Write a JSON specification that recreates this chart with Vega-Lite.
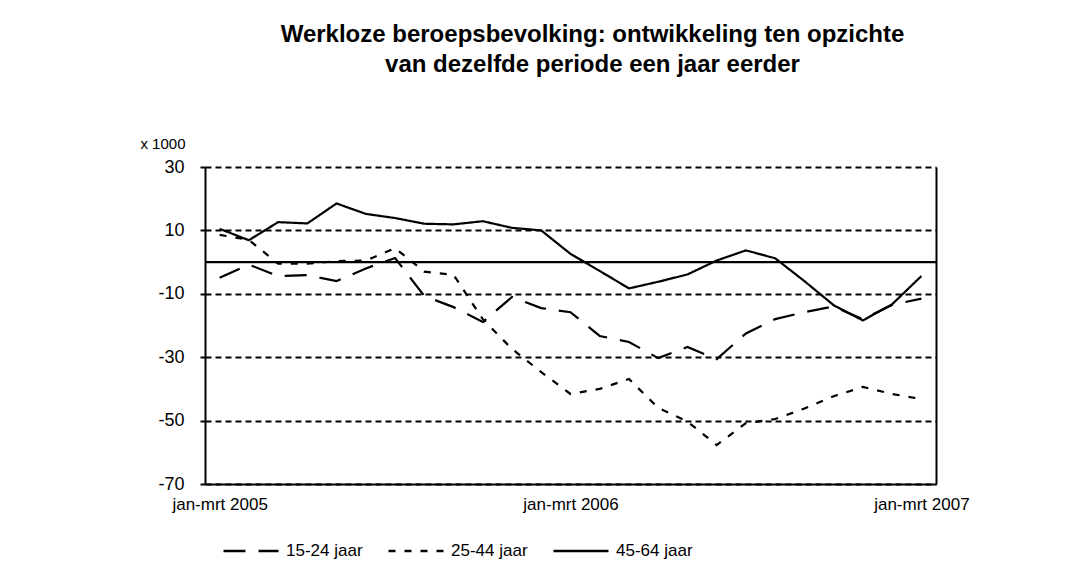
{
  "$schema": "https://vega.github.io/schema/vega-lite/v6.json",
  "width": 731,
  "height": 317,
  "autosize": {"type": "none"},
  "padding": {"left": 205, "top": 167, "right": 131, "bottom": 90},
  "background": "white",
  "config": {
    "font": "Liberation Sans",
    "view": {"stroke": null},
    "axis": {"labelColor": "black", "titleColor": "black", "labelFont": "Liberation Sans", "titleFont": "Liberation Sans"},
    "legend": {"labelColor": "black", "labelFont": "Liberation Sans"}
  },
  "title": {
    "text": ["Werkloze beroepsbevolking: ontwikkeling ten opzichte", "van dezelfde periode een jaar eerder"],
    "font": "Liberation Sans",
    "fontSize": 24,
    "fontWeight": "bold",
    "color": "black",
    "anchor": "middle",
    "frame": "group",
    "dx": 22,
    "offset": 59,
    "lineHeight": 30
  },
  "datasets": {
    "main": [
      {"period": "jan-mrt 2005", "series": "15-24 jaar", "value": -4.9},
      {"period": "feb-apr 2005", "series": "15-24 jaar", "value": -0.8},
      {"period": "mrt-mei 2005", "series": "15-24 jaar", "value": -4.4},
      {"period": "apr-jun 2005", "series": "15-24 jaar", "value": -4.1},
      {"period": "mei-jul 2005", "series": "15-24 jaar", "value": -6.0},
      {"period": "jun-aug 2005", "series": "15-24 jaar", "value": -2.0},
      {"period": "jul-sep 2005", "series": "15-24 jaar", "value": 1.3},
      {"period": "aug-okt 2005", "series": "15-24 jaar", "value": -10.7},
      {"period": "sep-nov 2005", "series": "15-24 jaar", "value": -14.2},
      {"period": "okt-dec 2005", "series": "15-24 jaar", "value": -18.9},
      {"period": "nov 2005-jan 2006", "series": "15-24 jaar", "value": -11.0},
      {"period": "dec 2005-feb 2006", "series": "15-24 jaar", "value": -14.5},
      {"period": "jan-mrt 2006", "series": "15-24 jaar", "value": -15.8},
      {"period": "feb-apr 2006", "series": "15-24 jaar", "value": -23.3},
      {"period": "mrt-mei 2006", "series": "15-24 jaar", "value": -25.2},
      {"period": "apr-jun 2006", "series": "15-24 jaar", "value": -30.3},
      {"period": "mei-jul 2006", "series": "15-24 jaar", "value": -26.8},
      {"period": "jun-aug 2006", "series": "15-24 jaar", "value": -30.6},
      {"period": "jul-sep 2006", "series": "15-24 jaar", "value": -22.5},
      {"period": "aug-okt 2006", "series": "15-24 jaar", "value": -18.0},
      {"period": "sep-nov 2006", "series": "15-24 jaar", "value": -15.8},
      {"period": "okt-dec 2006", "series": "15-24 jaar", "value": -14.0},
      {"period": "nov 2006-jan 2007", "series": "15-24 jaar", "value": -18.0},
      {"period": "dec 2006-feb 2007", "series": "15-24 jaar", "value": -13.5},
      {"period": "jan-mrt 2007", "series": "15-24 jaar", "value": -11.5},
      {"period": "jan-mrt 2005", "series": "25-44 jaar", "value": 8.6},
      {"period": "feb-apr 2005", "series": "25-44 jaar", "value": 7.0},
      {"period": "mrt-mei 2005", "series": "25-44 jaar", "value": -0.5},
      {"period": "apr-jun 2005", "series": "25-44 jaar", "value": -0.5},
      {"period": "mei-jul 2005", "series": "25-44 jaar", "value": 0.3},
      {"period": "jun-aug 2005", "series": "25-44 jaar", "value": 0.5},
      {"period": "jul-sep 2005", "series": "25-44 jaar", "value": 4.4},
      {"period": "aug-okt 2005", "series": "25-44 jaar", "value": -3.0},
      {"period": "sep-nov 2005", "series": "25-44 jaar", "value": -4.0},
      {"period": "okt-dec 2005", "series": "25-44 jaar", "value": -18.0},
      {"period": "nov 2005-jan 2006", "series": "25-44 jaar", "value": -27.4},
      {"period": "dec 2005-feb 2006", "series": "25-44 jaar", "value": -34.7},
      {"period": "jan-mrt 2006", "series": "25-44 jaar", "value": -41.6},
      {"period": "feb-apr 2006", "series": "25-44 jaar", "value": -40.0},
      {"period": "mrt-mei 2006", "series": "25-44 jaar", "value": -36.9},
      {"period": "apr-jun 2006", "series": "25-44 jaar", "value": -46.0},
      {"period": "mei-jul 2006", "series": "25-44 jaar", "value": -50.3},
      {"period": "jun-aug 2006", "series": "25-44 jaar", "value": -57.7},
      {"period": "jul-sep 2006", "series": "25-44 jaar", "value": -50.8},
      {"period": "aug-okt 2006", "series": "25-44 jaar", "value": -49.5},
      {"period": "sep-nov 2006", "series": "25-44 jaar", "value": -46.2},
      {"period": "okt-dec 2006", "series": "25-44 jaar", "value": -42.3},
      {"period": "nov 2006-jan 2007", "series": "25-44 jaar", "value": -39.4},
      {"period": "dec 2006-feb 2007", "series": "25-44 jaar", "value": -41.6},
      {"period": "jan-mrt 2007", "series": "25-44 jaar", "value": -43.2},
      {"period": "jan-mrt 2005", "series": "45-64 jaar", "value": 10.5},
      {"period": "feb-apr 2005", "series": "45-64 jaar", "value": 6.9},
      {"period": "mrt-mei 2005", "series": "45-64 jaar", "value": 12.6},
      {"period": "apr-jun 2005", "series": "45-64 jaar", "value": 12.2},
      {"period": "mei-jul 2005", "series": "45-64 jaar", "value": 18.5},
      {"period": "jun-aug 2005", "series": "45-64 jaar", "value": 15.2},
      {"period": "jul-sep 2005", "series": "45-64 jaar", "value": 13.9},
      {"period": "aug-okt 2005", "series": "45-64 jaar", "value": 12.1},
      {"period": "sep-nov 2005", "series": "45-64 jaar", "value": 11.9},
      {"period": "okt-dec 2005", "series": "45-64 jaar", "value": 12.9},
      {"period": "nov 2005-jan 2006", "series": "45-64 jaar", "value": 10.8},
      {"period": "dec 2005-feb 2006", "series": "45-64 jaar", "value": 10.0},
      {"period": "jan-mrt 2006", "series": "45-64 jaar", "value": 2.6},
      {"period": "feb-apr 2006", "series": "45-64 jaar", "value": -2.8},
      {"period": "mrt-mei 2006", "series": "45-64 jaar", "value": -8.3},
      {"period": "apr-jun 2006", "series": "45-64 jaar", "value": -6.2},
      {"period": "mei-jul 2006", "series": "45-64 jaar", "value": -3.9},
      {"period": "jun-aug 2006", "series": "45-64 jaar", "value": 0.5},
      {"period": "jul-sep 2006", "series": "45-64 jaar", "value": 3.7},
      {"period": "aug-okt 2006", "series": "45-64 jaar", "value": 1.2},
      {"period": "sep-nov 2006", "series": "45-64 jaar", "value": -6.0},
      {"period": "okt-dec 2006", "series": "45-64 jaar", "value": -13.6},
      {"period": "nov 2006-jan 2007", "series": "45-64 jaar", "value": -18.4},
      {"period": "dec 2006-feb 2007", "series": "45-64 jaar", "value": -13.3},
      {"period": "jan-mrt 2007", "series": "45-64 jaar", "value": -4.4}
    ],
    "zero": [{"level": 0}]
  },
  "layer": [
    {
      "data": {"name": "main"},
      "mark": {"type": "line", "strokeWidth": 2.2, "color": "black", "strokeCap": "butt"},
      "encoding": {
        "x": {
          "field": "period",
          "type": "ordinal",
          "sort": null,
          "scale": {"type": "point", "padding": 0.5},
          "axis": {
            "values": ["jan-mrt 2005", "jan-mrt 2006", "jan-mrt 2007"],
            "title": null,
            "labelAngle": 0,
            "labelFontSize": 17,
            "labelPadding": 12,
            "ticks": false,
            "grid": false,
            "domain": true,
            "domainColor": "black",
            "domainWidth": 2
          }
        },
        "y": {
          "field": "value",
          "type": "quantitative",
          "scale": {"domain": [-70, 30], "nice": false, "zero": false},
          "axis": {
            "orient": "left",
            "values": [-70, -50, -30, -10, 10, 30],
            "labelExpr": "toString(datum.value)",
            "title": "x 1000",
            "titleAngle": 0,
            "titleAlign": "right",
            "titleBaseline": "middle",
            "titleX": -20,
            "titleY": -24,
            "titleFontSize": 15,
            "titleFontWeight": "normal",
            "labelFontSize": 18,
            "labelPadding": 14,
            "tickSize": 7,
            "tickColor": "black",
            "tickWidth": 2,
            "tickDash": [5, 3],
            "domain": true,
            "domainColor": "black",
            "domainWidth": 2,
            "grid": true,
            "gridColor": "black",
            "gridWidth": 2,
            "gridDash": [6, 4],
            "gridOpacity": 1
          }
        },
        "strokeDash": {
          "field": "series",
          "type": "nominal",
          "scale": {"domain": ["15-24 jaar", "25-44 jaar", "45-64 jaar"], "range": [[22, 13], [7, 9], [1, 0]]},
          "legend": {
            "title": null,
            "orient": "none",
            "legendX": 17,
            "legendY": 355,
            "direction": "horizontal",
            "symbolType": "stroke",
            "symbolSize": 3025,
            "symbolStrokeWidth": 2.5,
            "symbolStrokeColor": "black",
            "labelFontSize": 17,
            "labelOffset": 6,
            "columnPadding": 20
          }
        }
      }
    },
    {
      "data": {"name": "zero"},
      "mark": {"type": "rule", "strokeWidth": 2.2, "color": "black"},
      "encoding": {
        "y": {
          "field": "level",
          "type": "quantitative",
          "axis": {
            "orient": "right",
            "title": null,
            "labels": false,
            "ticks": false,
            "grid": false,
            "domain": true,
            "domainColor": "black",
            "domainWidth": 2
          }
        }
      }
    }
  ],
  "resolve": {"axis": {"y": "independent"}}
}
